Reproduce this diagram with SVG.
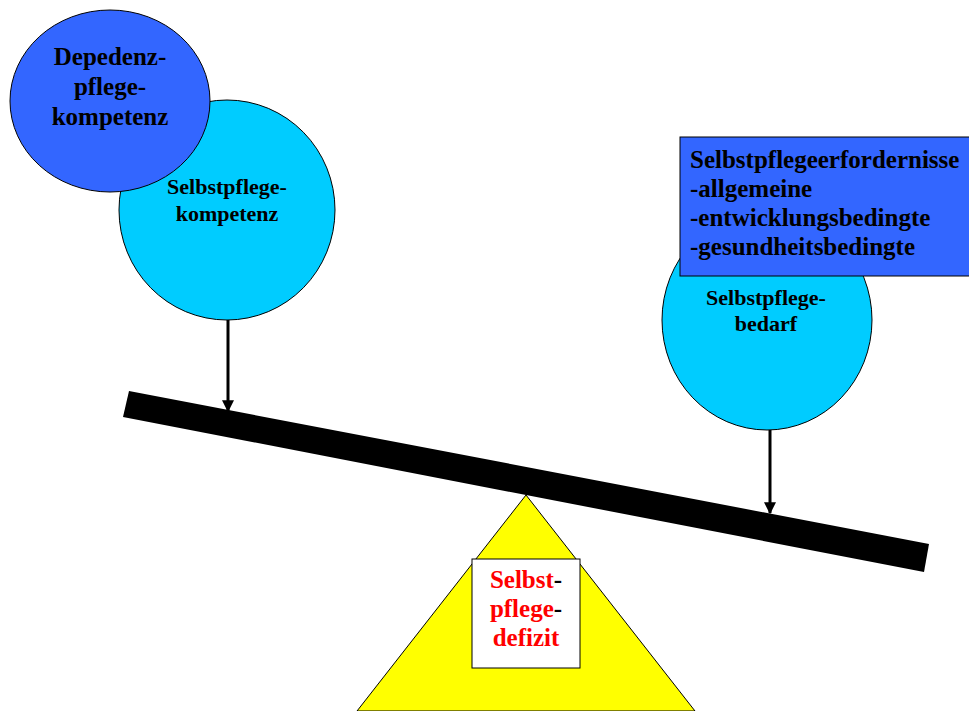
<svg xmlns="http://www.w3.org/2000/svg" width="969" height="711" viewBox="0 0 969 711">
<style>
text{font-family:"Liberation Serif","Times New Roman",serif;font-weight:bold;fill:#000}
.c{text-anchor:middle}
.r{fill:#ff0000}
.ln{stroke:#000;stroke-width:3;fill:none}
.sh{stroke:#000;stroke-width:1}
</style>
<defs>
<marker id="ah" viewBox="0 0 10 10" refX="9" refY="5" markerWidth="4" markerHeight="4" orient="auto" markerUnits="strokeWidth">
<path d="M0,0 L10,5 L0,10 z" fill="#000"/>
</marker>
</defs>
<rect width="969" height="711" fill="#fff"/>
<g id="fulcrum">
<polygon points="526,495 695,711 357,711" fill="#ffff00" class="sh"/>
</g>
<g id="beam">
<polygon points="129,391 929,544 924,572 123,417" fill="#000"/>
</g>
<g id="selbstpflegekompetenz">
<ellipse cx="227" cy="210" rx="108" ry="110" fill="#00ccff" class="sh"/>
<text class="c" x="227" y="194" font-size="22">Selbstpflege-</text>
<text class="c" x="227" y="221" font-size="22">kompetenz</text>
</g>
<g id="dependenzpflegekompetenz">
<ellipse cx="110" cy="101" rx="100" ry="91" fill="#3366ff" class="sh"/>
<text class="c" x="110" y="65" font-size="25">Depedenz-</text>
<text class="c" x="110" y="95" font-size="25">pflege-</text>
<text class="c" x="110" y="125" font-size="25">kompetenz</text>
</g>
<g id="selbstpflegebedarf">
<ellipse cx="767" cy="320" rx="105" ry="110" fill="#00ccff" class="sh"/>
<text class="c" x="766" y="305" font-size="22">Selbstpflege-</text>
<text class="c" x="766" y="331" font-size="22">bedarf</text>
</g>
<g id="erfordernisse">
<rect x="680" y="137" width="300" height="139" fill="#3366ff" class="sh"/>
<text x="690" y="168" font-size="25">Selbstpflegeerfordernisse</text>
<text x="690" y="197" font-size="25">-allgemeine</text>
<text x="690" y="226" font-size="25">-entwicklungsbedingte</text>
<text x="690" y="255" font-size="25">-gesundheitsbedingte</text>
</g>
<g id="defizit">
<rect x="472" y="559" width="108" height="109" fill="#fff" class="sh"/>
<text class="c" x="526" y="588" font-size="25"><tspan class="r">Selbst</tspan>-</text>
<text class="c" x="526" y="617" font-size="25"><tspan class="r">pflege</tspan>-</text>
<text class="c r" x="526" y="646" font-size="25">defizit</text>
</g>
<g id="connectors">
<line class="ln" x1="228" y1="320" x2="228" y2="411" marker-end="url(#ah)"/>
<line class="ln" x1="770" y1="430" x2="770" y2="513" marker-end="url(#ah)"/>
</g>
</svg>
